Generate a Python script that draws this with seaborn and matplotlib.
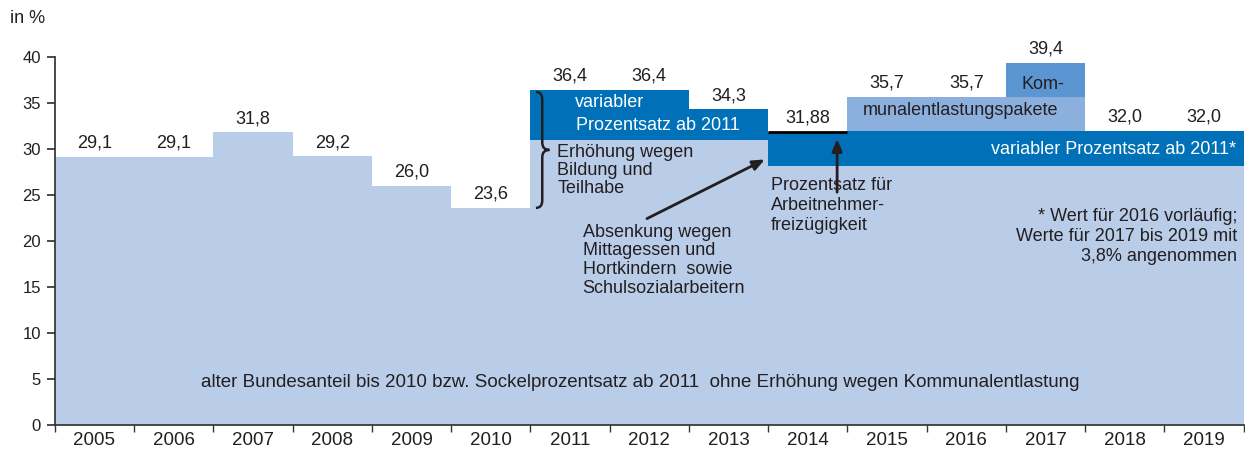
import numpy as np
import pandas as pd
import matplotlib
matplotlib.use("Agg")
import matplotlib.pyplot as plt
import seaborn as sns
from matplotlib.path import Path
from matplotlib.patches import PathPatch

# Daten (in %)
years = [2005, 2006, 2007, 2008, 2009, 2010, 2011, 2012, 2013, 2014, 2015, 2016, 2017, 2018, 2019]
base = [29.1, 29.1, 31.8, 29.2, 26.0, 23.6, 31.0, 31.0, 31.0, 28.2, 28.2, 28.2, 28.2, 28.2, 28.2]
variabel = [0, 0, 0, 0, 0, 0, 5.4, 5.4, 3.3, 3.68, 3.8, 3.8, 3.8, 3.8, 3.8]
kommunal = [0, 0, 0, 0, 0, 0, 0, 0, 0, 0, 3.7, 3.7, 3.7, 0, 0]
kommunal_2017 = [0, 0, 0, 0, 0, 0, 0, 0, 0, 0, 0, 0, 3.7, 0, 0]
labels = ["29,1", "29,1", "31,8", "29,2", "26,0", "23,6", "36,4", "36,4", "34,3",
          "31,88", "35,7", "35,7", "39,4", "32,0", "32,0"]

df = pd.DataFrame({"year": [str(y) for y in years], "base": base, "var": variabel,
                   "k1": kommunal, "k2": kommunal_2017})
df["top_base"] = df["base"]
df["top_var"] = df["top_base"] + df["var"]
df["top_k1"] = df["top_var"] + df["k1"]
df["top_k2"] = df["top_k1"] + df["k2"]

c_light = "#b9cde9"
c_dark = "#0071b9"
c_mid = "#8cb0de"
c_mid2 = "#5b96d3"
txt = "#231f20"
fs = 13

sns.set_theme(style="ticks")
plt.rcParams["font.family"] = ["Liberation Sans", "DejaVu Sans"]

fig = plt.figure(figsize=(12.45, 4.51), dpi=100)
ax = fig.add_axes([0.044, 0.0576, 0.955, 0.816])

# gestapelt: hoechste Summe zuerst, dann darueber die unteren Schichten
for col, color in [("top_k2", c_mid2), ("top_k1", c_mid), ("top_var", c_dark), ("top_base", c_light)]:
    sns.barplot(data=df, x="year", y=col, color=color, width=1, saturation=1,
                linewidth=0, ax=ax)

# Linie Arbeitnehmerfreizuegigkeit 2014
i14 = years.index(2014)
ax.hlines(df["top_var"][i14], i14 - 0.5, i14 + 0.5, color="black", lw=2, zorder=5)

# Werte ueber den Balken
for i, lab in enumerate(labels):
    ax.text(i, df["top_k2"][i] + 1.5, lab, ha="center", va="center", fontsize=fs,
            color=txt, clip_on=False)

ax.set_xlim(-0.5, len(years) - 0.5)
ax.set_ylim(0, 40)
ax.set_yticks(range(0, 41, 5))
ax.set_xlabel("")
ax.set_ylabel("")
sns.despine(ax=ax, top=True, right=True)
ax.spines["left"].set_color("#333333")
ax.spines["bottom"].set_color("#333333")
ax.tick_params(axis="y", length=6, color="#333333", labelsize=12, labelcolor=txt, pad=4)
ax.tick_params(axis="x", which="major", length=0, labelsize=13.5, labelcolor=txt, pad=5)
ax.set_xticks(np.arange(-0.5, len(years) + 0.5, 1), minor=True)
ax.tick_params(axis="x", which="minor", length=5, color="#333333")

fig.text(0.008, 0.96, "in %", fontsize=fs, color=txt, va="center")

# Beschriftungen
ax.text(6.06, 35.1, "variabler", color="white", fontsize=fs, va="center")
ax.text(6.07, 32.6, "Prozentsatz ab 2011", color="white", fontsize=fs, va="center")
ax.text(5.84, 30.5, "Erhöhung wegen\nBildung und\nTeilhabe", color=txt, fontsize=fs,
        va="top", linespacing=1.07, ha="left")
ax.text(6.16, 21.9, "Absenkung wegen\nMittagessen und\nHortkindern  sowie\nSchulsozialarbeitern",
        color=txt, fontsize=fs, va="top", linespacing=1.15)
ax.text(8.53, 27.0, "Prozentsatz für\nArbeitnehmer-\nfreizügigkeit", color=txt, fontsize=fs,
        va="top", linespacing=1.25)
ax.text(9.7, 34.2, "munalentlastungspakete", color=txt, fontsize=fs, va="center")
ax.text(11.7, 37.0, "Kom-", color=txt, fontsize=fs, va="center")
ax.text(14.4, 29.9, "variabler Prozentsatz ab 2011*", color="white", fontsize=fs,
        va="center", ha="right")
ax.text(14.42, 23.6, "* Wert für 2016 vorläufig;\nWerte für 2017 bis 2019 mit\n3,8% angenommen",
        color=txt, fontsize=fs, va="top", ha="right", multialignment="right", linespacing=1.22)
ax.text(6.88, 4.6, "alter Bundesanteil bis 2010 bzw. Sockelprozentsatz ab 2011  ohne Erhöhung wegen Kommunalentlastung",
        color=txt, fontsize=13.5, va="center", ha="center")

# Pfeile
ax.annotate("", xy=(8.49, 29.0), xytext=(6.94, 22.3),
            arrowprops=dict(arrowstyle="-|>,head_length=0.6,head_width=0.25", color=txt, lw=2))
ax.annotate("", xy=(9.37, 31.4), xytext=(9.37, 25.0),
            arrowprops=dict(arrowstyle="-|>,head_length=0.6,head_width=0.25", color=txt, lw=2))

# geschweifte Klammer
x0, x1, x2 = 5.57, 5.65, 5.74
ytop, ymid, ybot, r = 36.2, 29.9, 23.6, 0.8
verts = [(x0, ytop), (x1, ytop), (x1, ytop - r),
         (x1, ymid + r), (x1, ymid), (x2, ymid),
         (x1, ymid), (x1, ymid - r),
         (x1, ybot + r), (x1, ybot), (x0, ybot)]
codes = [Path.MOVETO, Path.CURVE3, Path.CURVE3,
         Path.LINETO, Path.CURVE3, Path.CURVE3,
         Path.CURVE3, Path.CURVE3,
         Path.LINETO, Path.CURVE3, Path.CURVE3]
ax.add_patch(PathPatch(Path(verts, codes), fill=False, color=txt, lw=1.8, zorder=6))

fig.savefig("out.png", dpi=100)
